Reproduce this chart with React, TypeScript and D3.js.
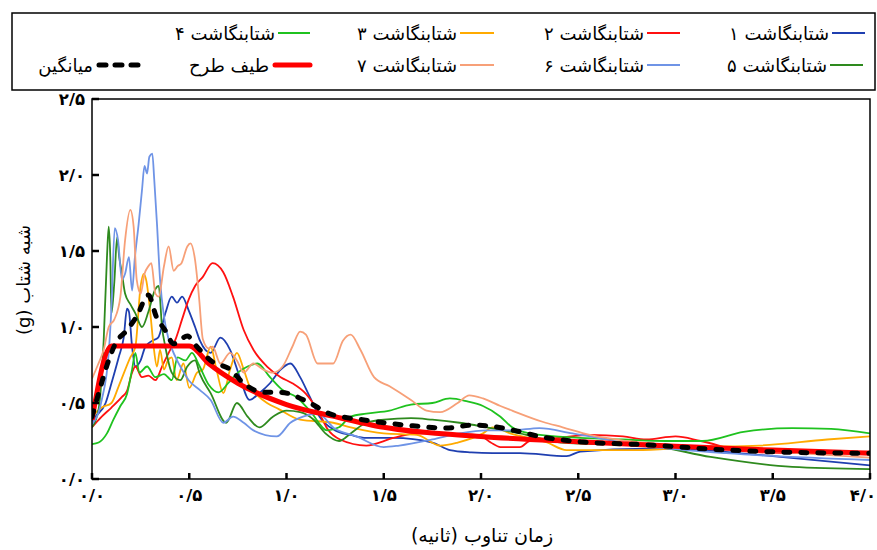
import React from "react";
import * as d3 from "d3";

const W = 877;
const H = 550;

// [period (s), pseudo-acceleration (g)]
const rec1 = [[0,0.38],[0.017,0.41],[0.07,0.5],[0.1,0.63],[0.137,0.8],[0.163,0.93],[0.18,1.12],[0.19,1.1],[0.206,0.87],[0.223,0.74],[0.25,0.78],[0.274,0.87],[0.31,0.91],[0.34,0.93],[0.377,1.09],[0.41,1.2],[0.437,1.16],[0.463,1.2],[0.497,1.11],[0.53,1.0],[0.555,0.91],[0.61,0.83],[0.66,0.93],[0.71,0.85],[0.76,0.67],[0.81,0.52],[0.86,0.565],[0.915,0.63],[0.97,0.72],[1.02,0.76],[1.07,0.67],[1.12,0.54],[1.17,0.41],[1.25,0.32],[1.33,0.29],[1.41,0.27],[1.55,0.27],[1.75,0.24],[1.84,0.19],[1.95,0.175],[2.06,0.17],[2.2,0.17],[2.44,0.15],[2.51,0.18],[2.85,0.2],[3.13,0.19],[3.5,0.15],[4.0,0.09]];
const rec2 = [[0,0.34],[0.05,0.41],[0.1,0.47],[0.154,0.54],[0.18,0.58],[0.206,0.7],[0.223,0.74],[0.257,0.67],[0.29,0.68],[0.326,0.65],[0.36,0.74],[0.394,0.83],[0.43,0.92],[0.463,1.05],[0.497,1.18],[0.53,1.27],[0.57,1.33],[0.62,1.42],[0.675,1.36],[0.725,1.2],[0.78,0.98],[0.83,0.85],[0.9,0.74],[0.97,0.67],[1.03,0.63],[1.1,0.56],[1.17,0.43],[1.21,0.33],[1.275,0.26],[1.41,0.22],[1.55,0.27],[1.67,0.3],[1.8,0.3],[1.9,0.29],[2.0,0.28],[2.05,0.24],[2.1,0.21],[2.2,0.21],[2.25,0.25],[2.4,0.27],[2.56,0.29],[2.73,0.28],[2.85,0.26],[3.0,0.28],[3.13,0.25],[3.37,0.18],[3.6,0.17],[4.0,0.18]];
const rec3 = [[0,0.41],[0.05,0.47],[0.1,0.5],[0.137,0.61],[0.197,0.8],[0.223,0.87],[0.25,1.27],[0.266,1.35],[0.28,1.3],[0.3,1.09],[0.317,0.87],[0.334,0.74],[0.35,0.85],[0.37,0.72],[0.39,0.78],[0.41,0.8],[0.435,0.65],[0.47,0.76],[0.5,0.6],[0.54,0.7],[0.57,0.72],[0.61,0.87],[0.64,0.72],[0.675,0.565],[0.71,0.72],[0.745,0.83],[0.78,0.72],[0.81,0.61],[0.85,0.55],[0.9,0.5],[0.96,0.46],[1.07,0.39],[1.24,0.37],[1.33,0.34],[1.5,0.3],[1.67,0.29],[1.79,0.22],[1.88,0.24],[2.01,0.3],[2.06,0.34],[2.15,0.3],[2.34,0.24],[2.44,0.19],[2.6,0.19],[2.8,0.19],[3.09,0.21],[3.43,0.22],[3.78,0.26],[4.0,0.28]];
const rec4 = [[0,0.23],[0.034,0.24],[0.077,0.3],[0.11,0.39],[0.146,0.48],[0.18,0.56],[0.206,0.72],[0.223,0.83],[0.243,0.7],[0.283,0.74],[0.326,0.67],[0.37,0.69],[0.41,0.65],[0.44,0.8],[0.48,0.78],[0.514,0.83],[0.55,0.75],[0.6,0.62],[0.65,0.57],[0.7,0.63],[0.75,0.7],[0.8,0.74],[0.85,0.76],[0.915,0.67],[0.98,0.585],[1.05,0.54],[1.12,0.45],[1.21,0.32],[1.27,0.34],[1.33,0.41],[1.41,0.43],[1.53,0.45],[1.64,0.49],[1.75,0.5],[1.84,0.53],[1.93,0.51],[2.01,0.48],[2.1,0.41],[2.16,0.34],[2.25,0.3],[2.51,0.27],[2.73,0.26],[2.95,0.25],[3.14,0.25],[3.35,0.31],[3.6,0.335],[3.8,0.33],[4.0,0.3]];
const rec5 = [[0,0.34],[0.034,0.46],[0.06,0.91],[0.077,1.46],[0.086,1.66],[0.094,1.46],[0.1,1.09],[0.115,1.3],[0.129,1.59],[0.14,1.46],[0.154,1.35],[0.17,1.22],[0.197,1.15],[0.223,1.09],[0.257,1.0],[0.29,1.1],[0.326,1.25],[0.343,1.27],[0.36,1.0],[0.377,0.87],[0.41,0.7],[0.454,0.65],[0.49,0.74],[0.53,0.78],[0.555,0.69],[0.61,0.565],[0.69,0.37],[0.745,0.5],[0.8,0.41],[0.86,0.34],[0.93,0.41],[1.0,0.45],[1.07,0.44],[1.14,0.39],[1.2,0.3],[1.27,0.25],[1.33,0.3],[1.41,0.37],[1.5,0.39],[1.64,0.4],[1.75,0.39],[1.89,0.37],[2.03,0.34],[2.2,0.3],[2.41,0.24],[2.86,0.22],[3.18,0.145],[3.6,0.08],[4.0,0.065]];
const rec6 = [[0,0.36],[0.05,0.52],[0.086,0.83],[0.1,1.13],[0.117,1.65],[0.134,1.57],[0.154,1.31],[0.17,1.35],[0.19,1.46],[0.206,1.24],[0.22,1.45],[0.24,1.68],[0.257,1.9],[0.27,2.06],[0.283,2.01],[0.295,2.12],[0.31,2.14],[0.32,1.97],[0.334,1.68],[0.35,1.31],[0.37,1.07],[0.394,0.92],[0.43,0.8],[0.463,0.72],[0.497,0.65],[0.555,0.585],[0.61,0.52],[0.675,0.37],[0.725,0.41],[0.78,0.37],[0.83,0.32],[0.95,0.28],[1.02,0.37],[1.085,0.41],[1.16,0.43],[1.25,0.33],[1.36,0.28],[1.5,0.21],[1.58,0.22],[1.75,0.26],[1.89,0.3],[2.03,0.32],[2.16,0.32],[2.3,0.335],[2.47,0.3],[2.83,0.22],[3.26,0.17],[4.0,0.125]];
const rec7 = [[0,0.66],[0.03,0.75],[0.06,0.85],[0.086,1.0],[0.115,1.05],[0.146,1.2],[0.17,1.57],[0.197,1.77],[0.214,1.66],[0.23,1.31],[0.25,1.22],[0.27,1.35],[0.29,1.4],[0.305,1.42],[0.326,1.22],[0.343,1.2],[0.37,1.4],[0.394,1.53],[0.42,1.37],[0.44,1.4],[0.46,1.42],[0.49,1.53],[0.506,1.55],[0.53,1.44],[0.55,1.2],[0.57,0.92],[0.6,0.86],[0.62,0.87],[0.66,0.76],[0.71,0.83],[0.745,0.78],[0.78,0.7],[0.83,0.76],[0.88,0.72],[0.93,0.7],[0.98,0.74],[1.03,0.87],[1.07,0.97],[1.1,0.95],[1.16,0.76],[1.24,0.76],[1.29,0.91],[1.33,0.95],[1.38,0.85],[1.45,0.67],[1.53,0.61],[1.64,0.52],[1.72,0.45],[1.79,0.44],[1.88,0.5],[1.94,0.55],[2.01,0.53],[2.1,0.48],[2.16,0.45],[2.32,0.375],[2.42,0.34],[2.56,0.29],[2.75,0.25],[3.0,0.22],[3.5,0.18],[4.0,0.14]];
const design = [[0,0.39],[0.1,0.875],[0.5,0.875],[0.6,0.76],[0.75,0.63],[1.0,0.49],[1.25,0.41],[1.5,0.34],[2.0,0.28],[2.5,0.245],[3.0,0.215],[3.5,0.19],[4.0,0.17]];
const mean = [[0,0.41],[0.04,0.59],[0.08,0.76],[0.12,0.89],[0.18,0.98],[0.23,1.07],[0.29,1.21],[0.33,1.07],[0.375,0.98],[0.42,0.89],[0.49,0.94],[0.54,0.87],[0.61,0.78],[0.71,0.72],[0.78,0.63],[0.88,0.57],[0.97,0.57],[1.12,0.5],[1.22,0.43],[1.39,0.39],[1.65,0.35],[1.82,0.335],[1.96,0.355],[2.03,0.35],[2.17,0.32],[2.3,0.28],[2.51,0.245],[2.85,0.225],[3.27,0.19],[3.95,0.17],[4.0,0.17]];

const xTicks = [0, 0.5, 1, 1.5, 2, 2.5, 3, 3.5, 4];
const xTickLabels = ["۰/۰", "۰/۵", "۱/۰", "۱/۵", "۲/۰", "۲/۵", "۳/۰", "۳/۵", "۴/۰"];
const yTicks = [0, 0.5, 1, 1.5, 2, 2.5];
const yTickLabels = ["۰/۰", "۰/۵", "۱/۰", "۱/۵", "۲/۰", "۲/۵"];

const records = [
  { name: "شتابنگاشت ۱", data: rec1, color: "#1f3fb0" },
  { name: "شتابنگاشت ۲", data: rec2, color: "#ff1010" },
  { name: "شتابنگاشت ۳", data: rec3, color: "#ffaa00" },
  { name: "شتابنگاشت ۴", data: rec4, color: "#1fc21f" },
  { name: "شتابنگاشت ۵", data: rec5, color: "#2e8a1e" },
  { name: "شتابنگاشت ۶", data: rec6, color: "#6f94e6" },
  { name: "شتابنگاشت ۷", data: rec7, color: "#f7a078" },
];

const FONT = "'DejaVu Sans', sans-serif";

export default function App() {
  const x = d3.scaleLinear().domain([0, 4]).range([92, 870]);
  const y = d3.scaleLinear().domain([0, 2.5]).range([479, 99]);
  const line = d3
    .line<number[]>()
    .x((d) => x(d[0]))
    .y((d) => y(d[1]))
    .curve(d3.curveMonotoneX);

  // legend slots: [line x0, line x1, row]
  const slots = [
    [832, 865, 0], [647, 680, 0], [460, 494, 0], [278, 310, 0],
    [830, 863, 1], [647, 680, 1], [460, 494, 1],
  ];
  const rowY = [33, 65];

  return (
    <svg width={W} height={H} style={{ position: "absolute", left: 0, top: 0, background: "#fff" }}>
      <defs>
        <clipPath id="plot">
          <rect x={92} y={99} width={778} height={380} />
        </clipPath>
      </defs>

      {/* legend */}
      <rect x={12} y={13} width={863} height={77} fill="none" stroke="#000" strokeWidth={1.5} />
      {records.map((r, i) => {
        const [a, b, row] = slots[i];
        return (
          <g key={r.name}>
            <line x1={a} x2={b} y1={rowY[row]} y2={rowY[row]} stroke={r.color} strokeWidth={2} />
            <text x={a - 3} y={rowY[row] + 7} textAnchor="end" fontFamily={FONT} fontSize={18} fill="#000">
              {r.name}
            </text>
          </g>
        );
      })}
      <line x1={275} x2={310} y1={65} y2={65} stroke="#ff0000" strokeWidth={5} strokeLinecap="round" />
      <text x={269} y={72} textAnchor="end" fontFamily={FONT} fontSize={18}>طیف طرح</text>
      <line x1={99} x2={147} y1={65} y2={65} stroke="#000" strokeWidth={5} strokeDasharray="7 9" strokeLinecap="round" />
      <text x={93} y={72} textAnchor="end" fontFamily={FONT} fontSize={18}>میانگین</text>

      {/* curves */}
      <g clipPath="url(#plot)" fill="none">
        {records.map((r) => (
          <path key={r.name} d={line(r.data as number[][]) || ""} stroke={r.color} strokeWidth={1.8} />
        ))}
        <path d={line(design as number[][]) || ""} stroke="#ff0000" strokeWidth={5} strokeLinejoin="round" />
        <path d={line(mean as number[][]) || ""} stroke="#000" strokeWidth={5} strokeDasharray="6 11" strokeLinecap="round" />
      </g>

      {/* frame */}
      <rect x={92} y={99} width={778} height={380} fill="none" stroke="#000" strokeWidth={1.5} />
      {xTicks.map((t, i) => (
        <g key={"x" + t}>
          <line x1={x(t)} x2={x(t)} y1={479} y2={473} stroke="#000" strokeWidth={2.5} />
          <text
            x={i === xTicks.length - 1 ? 876 : x(t)}
            y={501}
            textAnchor={i === xTicks.length - 1 ? "end" : "middle"}
            fontFamily={FONT}
            fontSize={16.5}
            fontWeight="bold"
          >
            {xTickLabels[i]}
          </text>
        </g>
      ))}
      {yTicks.map((t, i) => (
        <g key={"y" + t}>
          <line x1={92} x2={99} y1={y(t)} y2={y(t)} stroke="#000" strokeWidth={2.5} />
          <text x={85} y={y(t) + 6} textAnchor="end" fontFamily={FONT} fontSize={16.5} fontWeight="bold">
            {yTickLabels[i]}
          </text>
        </g>
      ))}

      <text
        transform="translate(30,280) rotate(-90)"
        textAnchor="middle"
        direction="rtl"
        fontFamily={FONT}
        fontSize={18}
      >
        شبه شتاب (g)
      </text>
      <text x={482} y={542} textAnchor="middle" direction="rtl" fontFamily={FONT} fontSize={19}>
        زمان تناوب (ثانیه)
      </text>
    </svg>
  );
}
